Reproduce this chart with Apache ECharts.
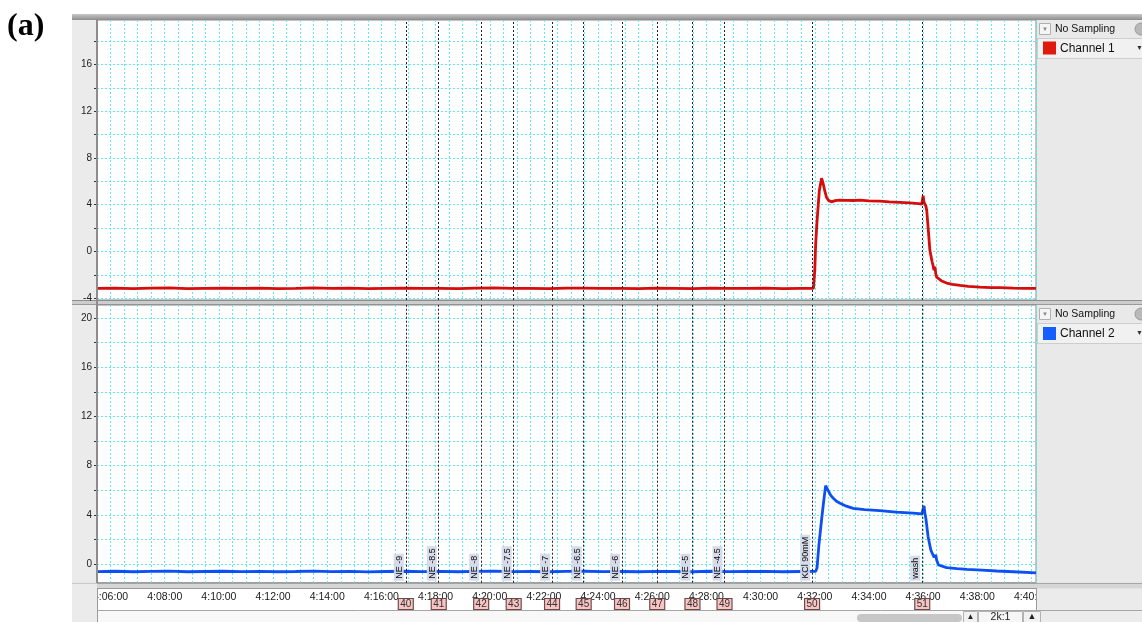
<!DOCTYPE html>
<html>
<head>
<meta charset="utf-8">
<script src="https://cdn.jsdelivr.net/npm/echarts@6/dist/echarts.min.js"></script>
<style>
  html, body { margin: 0; padding: 0; background: #fff; }
  #chart { width: 1142px; height: 622px; }
</style>
</head>
<body>
<div id="chart"></div>
<script>
// Time values are seconds after 4:00:00.
// Channel 1 trace: [time, value]
const ch1Trace = [
  [330, -3.16], [370, -3.13], [410, -3.17], [450, -3.14], [490, -3.12], [530, -3.18],
  [570, -3.15], [610, -3.13], [650, -3.16], [690, -3.14], [730, -3.17], [770, -3.15],
  [810, -3.12], [850, -3.16], [890, -3.14], [930, -3.18], [970, -3.15], [1010, -3.13],
  [1050, -3.16], [1090, -3.15], [1130, -3.17], [1170, -3.14], [1210, -3.12], [1250, -3.16],
  [1290, -3.15], [1330, -3.18], [1370, -3.14], [1410, -3.13], [1450, -3.16], [1490, -3.15],
  [1530, -3.17], [1570, -3.14], [1610, -3.15], [1650, -3.18], [1690, -3.13], [1730, -3.16],
  [1770, -3.15], [1810, -3.14], [1850, -3.17], [1890, -3.15], [1917, -3.15],
  [1920, -1.6], [1922, 0.7], [1925, 2.6], [1930, 5.2], [1935, 6.27], [1938, 5.9],
  [1942, 5.2], [1946, 4.62], [1951, 4.35], [1957, 4.25], [1965, 4.35], [1975, 4.4],
  [1990, 4.38], [2005, 4.36], [2020, 4.4], [2040, 4.33], [2064, 4.3], [2085, 4.25],
  [2108, 4.2], [2130, 4.15], [2150, 4.1], [2157, 4.05], [2160, 4.77], [2162, 4.2],
  [2166, 3.9], [2168, 3.5], [2171, 2.07], [2175, 0.08], [2180, -0.9], [2182, -1.2],
  [2184, -1.6], [2186, -1.3], [2188, -1.9], [2190, -2.2], [2200, -2.5], [2212, -2.7],
  [2225, -2.82], [2242, -2.9], [2260, -2.98], [2286, -3.05], [2310, -3.1], [2330, -3.1],
  [2360, -3.13], [2385, -3.15], [2410, -3.15]
];

// Channel 2 trace: [time, value]
const ch2Trace = [
  [330, -0.62], [370, -0.59], [410, -0.63], [450, -0.6], [490, -0.58], [530, -0.63],
  [570, -0.61], [610, -0.59], [650, -0.62], [690, -0.6], [730, -0.63], [770, -0.61],
  [810, -0.58], [850, -0.62], [890, -0.6], [930, -0.64], [970, -0.61], [1010, -0.59],
  [1050, -0.62], [1090, -0.6], [1130, -0.63], [1170, -0.6], [1210, -0.58], [1250, -0.62],
  [1290, -0.61], [1330, -0.63], [1370, -0.6], [1410, -0.59], [1450, -0.62], [1490, -0.61],
  [1530, -0.63], [1570, -0.6], [1610, -0.61], [1650, -0.63], [1690, -0.59], [1730, -0.62],
  [1770, -0.61], [1810, -0.6], [1850, -0.63], [1890, -0.61], [1922, -0.6],
  [1925, -0.3], [1929, 1.5], [1935, 3.6], [1940, 5.2], [1944, 6.37], [1950, 5.95],
  [1955, 5.6], [1961, 5.35], [1968, 5.1], [1976, 4.94], [1990, 4.7], [2005, 4.53],
  [2030, 4.42], [2064, 4.34], [2100, 4.22], [2138, 4.13], [2157, 4.07], [2160, 4.2],
  [2162, 4.72], [2164, 4.1], [2166, 3.72], [2171, 2.22], [2177, 1.14], [2184, 0.55],
  [2188, 0.73], [2190, 0.3], [2194, -0.08], [2212, -0.3], [2235, -0.38], [2257, -0.43],
  [2290, -0.5], [2323, -0.57], [2360, -0.63], [2410, -0.72]
];

// Comment events
const eventTimes = [1014, 1087, 1181, 1253, 1338, 1408, 1493, 1571, 1649, 1720, 1914, 2158];
const eventNotes = ['NE -9', 'NE -8.5', 'NE -8', 'NE -7.5', 'NE -7', 'NE -6.5', 'NE -6', '', 'NE -5', 'NE -4.5', 'KCl 90mM', 'wash'];
const commentIds = [40, 41, 42, 43, 44, 45, 46, 47, 48, 49, 50, 51];

// Axis ticks and labels
const ch1Ticks = [-4, -2, 0, 2, 4, 6, 8, 10, 12, 14, 16, 18];
const ch1Labels = [-4, 0, 4, 8, 12, 16];
const ch2Ticks = [0, 2, 4, 6, 8, 10, 12, 14, 16, 18, 20];
const ch2Labels = [0, 4, 8, 12, 16, 20];
const timeRange = [330, 2410];
const timeLabelStep = 120;

const FONT = '"Liberation Sans", Arial, sans-serif';
const RED = '#d60d0d';
const BLUE = '#0c50f4';
const GRID_CYAN = '#62eaf2';
const PANEL = '#e9e9e9';

function pad(n) { return n < 10 ? '0' + n : '' + n; }
function fmtTime(v) {
  const t = Math.round(v);
  const h = 4 + Math.floor(t / 3600);
  const m = Math.floor((t % 3600) / 60);
  const s = t % 60;
  return h + ':' + pad(m) + ':' + pad(s);
}

const splitCyan = { show: true, lineStyle: { color: GRID_CYAN, width: 1, type: [2, 2] } };

function plotX(gridIndex) {
  return {
    gridIndex: gridIndex, type: 'value', min: timeRange[0], max: timeRange[1], interval: 30,
    axisLine: { show: false }, axisTick: { show: false }, axisLabel: { show: false },
    splitLine: splitCyan
  };
}
function plotY(gridIndex, min, max, ticks, labels) {
  return {
    gridIndex: gridIndex, type: 'value', min: min, max: max,
    axisLine: { show: false },
    axisTick: { show: true, customValues: ticks, length: 3, lineStyle: { color: '#333', width: 1 } },
    axisLabel: { customValues: labels, fontSize: 10, color: '#222', fontFamily: FONT, margin: 5 },
    splitLine: splitCyan
  };
}

const eventLineStyle = { color: '#222', width: 1, type: [2, 2] };

const chart = echarts.init(document.getElementById('chart'), null, { renderer: 'canvas' });

const option = {
  animation: false,
  backgroundColor: '#fff',
  grid: [
    { left: 97, top: 20, width: 939, height: 280, show: true, borderColor: '#8a8a8a', borderWidth: 1, backgroundColor: '#fff' },
    { left: 97, top: 305, width: 939, height: 277.7, show: true, borderColor: '#8a8a8a', borderWidth: 1, backgroundColor: '#fff' },
    { left: 97, top: 589, width: 939, height: 21 },
    { left: 97, top: 599, width: 939, height: 10 }
  ],
  xAxis: [
    plotX(0),
    plotX(1),
    {
      gridIndex: 2, type: 'value', min: timeRange[0], max: timeRange[1], interval: 30, position: 'top',
      axisLine: { show: false },
      axisTick: { show: true, inside: true, length: 2, lineStyle: { color: '#555' } },
      axisLabel: {
        inside: true, margin: 3, fontSize: 10.5, color: '#1a1a1a', fontFamily: FONT,
        formatter: function (v) { return Math.round(v) % timeLabelStep === 0 ? fmtTime(v) : ''; }
      },
      splitLine: { show: false }
    },
    { gridIndex: 3, type: 'value', min: timeRange[0], max: timeRange[1], show: false }
  ],
  yAxis: [
    plotY(0, -4.15, 19.8, ch1Ticks, ch1Labels),
    plotY(1, -1.52, 21.06, ch2Ticks, ch2Labels),
    { gridIndex: 2, type: 'value', min: 0, max: 1, show: false },
    { gridIndex: 3, type: 'value', min: 0, max: 1, show: false }
  ],
  series: [
    {
      name: 'Channel 1', type: 'line', xAxisIndex: 0, yAxisIndex: 0,
      data: ch1Trace, showSymbol: false, z: 3,
      lineStyle: { color: RED, width: 2.8 }, itemStyle: { color: RED },
      markLine: {
        silent: true, symbol: ['none', 'none'], lineStyle: eventLineStyle,
        label: { show: false },
        data: eventTimes.map(function (t) { return { xAxis: t }; })
      }
    },
    {
      name: 'Channel 2', type: 'line', xAxisIndex: 1, yAxisIndex: 1,
      data: ch2Trace, showSymbol: false, z: 3,
      lineStyle: { color: BLUE, width: 2.8 }, itemStyle: { color: BLUE },
      markLine: {
        silent: true, symbol: ['none', 'none'], lineStyle: eventLineStyle,
        label: {
          show: true, position: 'insideStartTop', fontSize: 9, color: '#0a0a0a', fontFamily: FONT,
          backgroundColor: 'rgba(212,216,232,0.9)', padding: [1, 2, 0, 2], distance: 2
        },
        data: eventTimes.map(function (t, i) {
          return eventNotes[i]
            ? { xAxis: t, label: { formatter: eventNotes[i] } }
            : { xAxis: t, label: { show: false } };
        })
      }
    },
    {
      name: 'Comments', type: 'scatter', xAxisIndex: 3, yAxisIndex: 3, z: 60,
      symbol: 'rect', symbolSize: [15, 11],
      itemStyle: { color: '#f8c3c3', borderColor: '#6d4a4a', borderWidth: 1, opacity: 1 },
      label: { show: true, position: 'inside', fontSize: 10, color: '#333', fontFamily: FONT,
               formatter: function (p) { return p.data[2]; } },
      data: eventTimes.map(function (t, i) { return [t, 0.5, commentIds[i]]; })
    }
  ],
  graphic: {
    elements: [
      // panel (a) tag
      { type: 'text', x: 7, y: 27, z: 20,
        style: { text: '(a)', font: 'bold 32px "Liberation Serif", "Times New Roman", serif', fill: '#000', verticalAlign: 'middle' } },
      // left axis strip
      { type: 'rect', z: -5, shape: { x: 72, y: 15, width: 25, height: 607 }, style: { fill: '#ebebeb' } },
      // top frame bar
      { type: 'rect', z: -4, shape: { x: 72, y: 14, width: 1070, height: 6 },
        style: { fill: new echarts.graphic.LinearGradient(0, 0, 0, 1, [{ offset: 0, color: '#c8c8c8' }, { offset: 1, color: '#8c8c8c' }]) } },
      // right channel panel
      { type: 'rect', z: -5, shape: { x: 1036, y: 20, width: 106, height: 569 }, style: { fill: PANEL } },
      // separator between panels
      { type: 'rect', z: -4, shape: { x: 72, y: 300, width: 1070, height: 5 }, style: { fill: '#cdcdcd' } },
      { type: 'line', z: -3, shape: { x1: 72, y1: 300.5, x2: 1142, y2: 300.5 }, style: { stroke: '#8e8e8e', lineWidth: 1 } },
      { type: 'line', z: -3, shape: { x1: 72, y1: 304.5, x2: 1142, y2: 304.5 }, style: { stroke: '#9a9a9a', lineWidth: 1 } },
      // separator above time strip
      { type: 'rect', z: -4, shape: { x: 72, y: 582.7, width: 1070, height: 6 }, style: { fill: '#d6d6d6' } },
      { type: 'line', z: -3, shape: { x1: 72, y1: 583.5, x2: 1142, y2: 583.5 }, style: { stroke: '#a8a8a8', lineWidth: 1 } },
      { type: 'line', z: -3, shape: { x1: 97, y1: 588.5, x2: 1036, y2: 588.5 }, style: { stroke: '#9a9a9a', lineWidth: 1 } },
      // left plot frame
      { type: 'rect', z: 10, shape: { x: 96, y: 20, width: 2, height: 563 }, style: { fill: '#8d8d8d' } },
      // edge covers for time strip
      { type: 'rect', z: 50, shape: { x: 72, y: 583.5, width: 25, height: 38.5 }, style: { fill: '#ebebeb' } },
      { type: 'line', z: 51, shape: { x1: 97.5, y1: 588, x2: 97.5, y2: 622 }, style: { stroke: '#9a9a9a', lineWidth: 1 } },
      { type: 'rect', z: 50, shape: { x: 1036, y: 588.5, width: 106, height: 22 }, style: { fill: '#ebebeb' } },
      { type: 'line', z: 51, shape: { x1: 1036.5, y1: 588, x2: 1036.5, y2: 611 }, style: { stroke: '#9a9a9a', lineWidth: 1 } },
      // scroll row
      { type: 'rect', z: 50, shape: { x: 98, y: 611, width: 1044, height: 11 }, style: { fill: '#f8f8f8' } },
      { type: 'line', z: 51, shape: { x1: 97, y1: 610.5, x2: 1142, y2: 610.5 }, style: { stroke: '#a6a6a6', lineWidth: 1 } },
      { type: 'rect', z: 52, shape: { x: 857, y: 614, width: 105, height: 8, r: 4 }, style: { fill: '#c7c7c7' } },
      { type: 'rect', z: 52, shape: { x: 963.5, y: 611.5, width: 14, height: 11 }, style: { fill: '#f1f1f1', stroke: '#b3b3b3' } },
      { type: 'text', z: 53, x: 970.5, y: 617, style: { text: '\u25B2', font: '8px ' + FONT, fill: '#222', align: 'center', verticalAlign: 'middle' } },
      { type: 'rect', z: 52, shape: { x: 978.5, y: 611.5, width: 44, height: 11 }, style: { fill: '#f6f6f6', stroke: '#b3b3b3' } },
      { type: 'text', z: 53, x: 1000.5, y: 617.5, style: { text: '2k:1', font: '10.5px ' + FONT, fill: '#222', align: 'center', verticalAlign: 'middle' } },
      { type: 'rect', z: 52, shape: { x: 1023.5, y: 611.5, width: 17, height: 11 }, style: { fill: '#f1f1f1', stroke: '#b3b3b3' } },
      { type: 'text', z: 53, x: 1032, y: 617, style: { text: '\u25B2', font: '9px ' + FONT, fill: '#222', align: 'center', verticalAlign: 'middle' } },
      { type: 'rect', z: 52, shape: { x: 1041, y: 611, width: 101, height: 11 }, style: { fill: '#ececec' } },

      // channel 1 header
      { type: 'rect', z: 5, shape: { x: 1039.5, y: 23.5, width: 11, height: 11 }, style: { fill: '#f5f5f5', stroke: '#b0b0b0' } },
      { type: 'text', z: 6, x: 1045, y: 29.5, style: { text: '\u25BC', font: '6px ' + FONT, fill: '#888', align: 'center', verticalAlign: 'middle' } },
      { type: 'text', z: 6, x: 1055, y: 29.5, style: { text: 'No Sampling', font: '10.5px ' + FONT, fill: '#111', verticalAlign: 'middle' } },
      { type: 'circle', z: 6, shape: { cx: 1141, cy: 29, r: 6 }, style: { fill: '#b9b9b9', stroke: '#9a9a9a' } },
      { type: 'rect', z: 5, shape: { x: 1037.5, y: 38.5, width: 105, height: 20 }, style: { fill: '#f1f1f1', stroke: '#cdcdcd' } },
      { type: 'rect', z: 6, shape: { x: 1043, y: 41.5, width: 13, height: 13 }, style: { fill: '#e0190d' } },
      { type: 'text', z: 6, x: 1060, y: 48.5, style: { text: 'Channel 1', font: '12px ' + FONT, fill: '#111', verticalAlign: 'middle' } },
      { type: 'text', z: 6, x: 1136, y: 48.5, style: { text: '\u25BC', font: '7px ' + FONT, fill: '#333', verticalAlign: 'middle' } },

      // channel 2 header
      { type: 'rect', z: 5, shape: { x: 1039.5, y: 308.5, width: 11, height: 11 }, style: { fill: '#f5f5f5', stroke: '#b0b0b0' } },
      { type: 'text', z: 6, x: 1045, y: 314.5, style: { text: '\u25BC', font: '6px ' + FONT, fill: '#888', align: 'center', verticalAlign: 'middle' } },
      { type: 'text', z: 6, x: 1055, y: 314.5, style: { text: 'No Sampling', font: '10.5px ' + FONT, fill: '#111', verticalAlign: 'middle' } },
      { type: 'circle', z: 6, shape: { cx: 1141, cy: 314, r: 6 }, style: { fill: '#b9b9b9', stroke: '#9a9a9a' } },
      { type: 'rect', z: 5, shape: { x: 1037.5, y: 323.5, width: 105, height: 20 }, style: { fill: '#f1f1f1', stroke: '#cdcdcd' } },
      { type: 'rect', z: 6, shape: { x: 1043, y: 327, width: 13, height: 13 }, style: { fill: '#165dff' } },
      { type: 'text', z: 6, x: 1060, y: 333.5, style: { text: 'Channel 2', font: '12px ' + FONT, fill: '#111', verticalAlign: 'middle' } },
      { type: 'text', z: 6, x: 1136, y: 333.5, style: { text: '\u25BC', font: '7px ' + FONT, fill: '#333', verticalAlign: 'middle' } }
    ]
  }
};

chart.setOption(option);
</script>
</body>
</html>
